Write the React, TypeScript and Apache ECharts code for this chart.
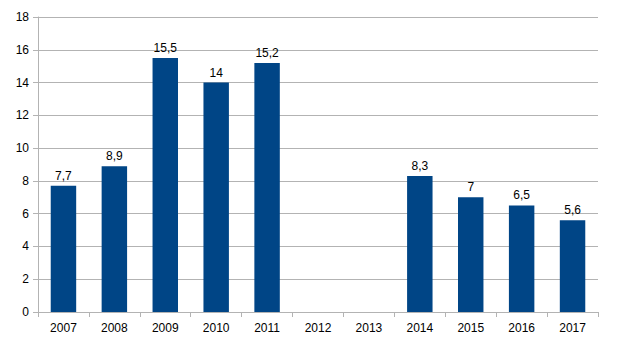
import React, { useEffect, useRef } from "react";
import * as echarts from "echarts";

const categories = ["2007", "2008", "2009", "2010", "2011", "2012", "2013", "2014", "2015", "2016", "2017"];
const values: (number | null)[] = [7.7, 8.9, 15.5, 14, 15.2, null, null, 8.3, 7, 6.5, 5.6];

export default function App() {
  const ref = useRef<HTMLDivElement>(null);
  useEffect(() => {
    document.body.style.margin = "0";
    const chart = echarts.init(ref.current!, null, { renderer: "svg" });
    const font = "'Liberation Sans', Arial, sans-serif";
    chart.setOption({
      animation: false,
      backgroundColor: "#ffffff",
      grid: { left: 38, right: 21, top: 17, bottom: 36, containLabel: false },
      xAxis: {
        type: "category",
        data: categories,
        axisLine: { show: true, lineStyle: { color: "#b3b3b3", width: 1 } },
        axisTick: { show: true, length: 5, alignWithLabel: false, lineStyle: { color: "#b3b3b3" } },
        axisLabel: { color: "#000", fontFamily: font, fontSize: 12, margin: 10 },
      },
      yAxis: {
        type: "value",
        min: 0,
        max: 18,
        interval: 2,
        axisLine: { show: true, lineStyle: { color: "#b3b3b3", width: 1 } },
        axisTick: { show: true, length: 5, lineStyle: { color: "#b3b3b3" } },
        axisLabel: { color: "#000", fontFamily: font, fontSize: 12, margin: 9 },
        splitLine: { show: true, lineStyle: { color: "#b3b3b3", width: 1 } },
      },
      series: [
        {
          type: "bar",
          data: values,
          barWidth: "50%",
          itemStyle: { color: "#004586" },
          label: {
            show: true,
            position: "top",
            distance: 4,
            color: "#000",
            fontFamily: font,
            fontSize: 12,
            formatter: (p: any) => String(p.value).replace(".", ","),
          },
        },
      ],
    });
    return () => chart.dispose();
  }, []);
  return <div ref={ref} style={{ width: 619, height: 348 }} />;
}
